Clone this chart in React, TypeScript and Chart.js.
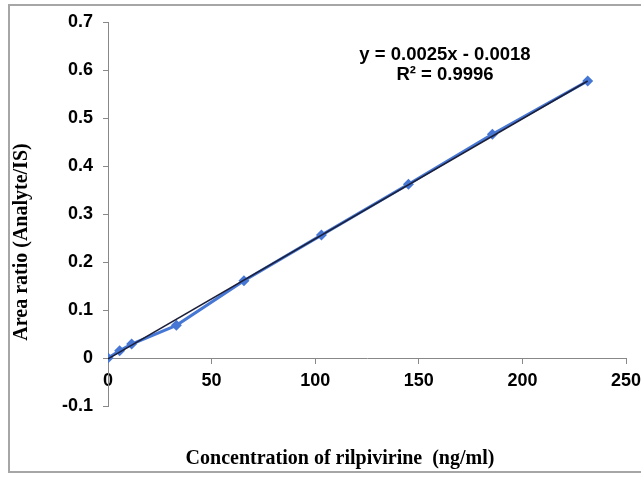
import React, { useEffect, useRef } from "react";
import { Chart, registerables } from "chart.js";

Chart.register(...registerables);

const concentrations = [0, 5.6, 11.4, 33, 65.6, 103, 145, 185.5, 231.5];
const areaRatios = [0, 0.015, 0.029, 0.068, 0.161, 0.256, 0.362, 0.466, 0.577];
const slope = 0.0025;
const intercept = -0.0018;
const xTicks = [0, 50, 100, 150, 200, 250];
const yRange = [-0.1, 0.7];
const equationLines = ["y = 0.0025x - 0.0018", "R² = 0.9996"];
const xTitle = "Concentration of rilpivirine  (ng/ml)";
const yTitle = "Area ratio (Analyte/IS)";

export default function App() {
  const ref = useRef<HTMLCanvasElement | null>(null);

  useEffect(() => {
    if (!ref.current) return;
    const xMin = concentrations[0];
    const xMax = concentrations[concentrations.length - 1];
    const trend = [
      { x: xMin, y: slope * xMin + intercept },
      { x: xMax, y: slope * xMax + intercept },
    ];
    const textPlugin = {
      id: "texts",
      afterDraw(chart: any) {
        const ctx = chart.ctx;
        ctx.save();
        ctx.fillStyle = "#000";
        ctx.textAlign = "center";
        ctx.textBaseline = "middle";
        ctx.font = "bold 18.5px 'Liberation Sans', Arial, sans-serif";
        ctx.fillText(equationLines[0], 445, 55);
        ctx.fillText(equationLines[1], 445, 75);
        ctx.font = "bold 20px 'Liberation Serif', 'Times New Roman', serif";
        ctx.fillText(xTitle, 340, 459);
        ctx.translate(22, 242);
        ctx.rotate(-Math.PI / 2);
        ctx.fillText(yTitle, 0, 0);
        ctx.restore();
      },
    };
    const chart = new Chart(ref.current, {
      type: "scatter",
      data: {
        datasets: [
          {
            label: "trend",
            data: trend,
            showLine: true,
            borderColor: "#1b1f3a",
            borderWidth: 1.6,
            pointRadius: 0,
            order: 0,
          },
          {
            label: "data",
            data: concentrations.map((x, i) => ({ x, y: areaRatios[i] })),
            showLine: true,
            borderColor: "#4677d4",
            backgroundColor: "#4677d4",
            borderWidth: 3,
            pointStyle: "rectRot",
            pointRadius: 5.5,
            pointBorderWidth: 0,
            order: 1,
          },
        ],
      },
      options: {
        responsive: false,
        animation: false,
        layout: { padding: { left: 0, right: 15, top: 22, bottom: 71 } },
        plugins: { legend: { display: false }, tooltip: { enabled: false } },
        scales: {
          x: {
            type: "linear",
            position: { y: 0 },
            min: xTicks[0],
            max: xTicks[xTicks.length - 1],
            afterBuildTicks: (s: any) => {
              s.ticks = xTicks.map((v) => ({ value: v }));
            },
            afterFit: (s: any) => {
              s.paddingLeft = 0;
              s.paddingRight = 0;
            },
            ticks: {
              color: "#000",
              font: { family: "'Liberation Sans', Arial, sans-serif", size: 18, weight: "bold" },
              padding: 7,
              maxRotation: 0,
            },
            grid: { display: true, drawOnChartArea: false, drawTicks: true, tickLength: 5, color: "#888" },
            border: { display: true, color: "#888", width: 1 },
          },
          y: {
            type: "linear",
            min: yRange[0],
            max: yRange[1],
            ticks: {
              stepSize: 0.1,
              color: "#000",
              font: { family: "'Liberation Sans', Arial, sans-serif", size: 18, weight: "bold" },
              padding: 10,
              callback: (v: any) => {
                const n = Math.round(Number(v) * 10) / 10;
                return n === 0 ? "0" : n.toFixed(1);
              },
            },
            afterFit: (s: any) => {
              s.width = 108;
              s.paddingTop = 0;
              s.paddingBottom = 0;
            },
            grid: { display: true, drawOnChartArea: false, drawTicks: true, tickLength: 5, color: "#888" },
            border: { display: true, color: "#888", width: 1 },
          },
        },
      },
      plugins: [textPlugin],
    });
    return () => chart.destroy();
  }, []);

  return (
    <div style={{ position: "fixed", left: 0, top: 0, width: 641, height: 477, background: "#fff" }}>
      <canvas ref={ref} width={641} height={477} style={{ position: "absolute", left: 0, top: 0, width: 641, height: 477 }} />
      <div
        style={{
          position: "absolute",
          left: 8,
          top: 4,
          width: 640,
          height: 465,
          borderTop: "2px solid #a6a6a6",
          borderLeft: "2px solid #a6a6a6",
          borderBottom: "2px solid #a6a6a6",
          pointerEvents: "none",
        }}
      />
    </div>
  );
}
